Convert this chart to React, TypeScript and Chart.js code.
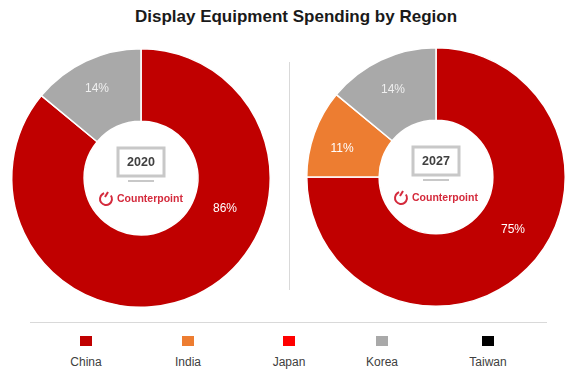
import React, { useEffect, useRef } from "react";
import { Chart, registerables } from "chart.js";

Chart.register(...registerables);

const regions = ["China", "India", "Japan", "Korea", "Taiwan"];
const colors = ["#c00000", "#ed7d31", "#ff0000", "#a9a9a9", "#000000"];
const values2020 = [86, 0, 0, 14, 0];
const values2027 = [75, 11, 0, 14, 0];

const titleText = "Display Equipment Spending by Region";
const brand = "Counterpoint";
const legendX = [86, 188, 289, 382, 488];

const FONT = '"Liberation Sans", Arial, sans-serif';

type Offsets = Record<number, [number, number]>;

const centerPlugin = (year: string, offsets: Offsets) => ({
  id: "center" + year,
  afterDatasetsDraw(chart: any) {
    const { ctx } = chart;
    const meta = chart.getDatasetMeta(0);
    const arc = meta.data[0];
    const cx = arc.x;
    const cy = arc.y;
    ctx.save();
    // slice labels
    ctx.textAlign = "center";
    ctx.textBaseline = "middle";
    ctx.font = `12px ${FONT}`;
    const vals = chart.data.datasets[0].data as number[];
    vals.forEach((v, i) => {
      if (!v) return;
      const off = offsets[i];
      ctx.fillStyle = i === 3 ? "#efefef" : "#ffffff";
      ctx.fillText(`${v}%`, cx + off[0], cy + off[1]);
    });
    // monitor icon
    ctx.strokeStyle = "#c8c8c8";
    ctx.lineWidth = 3;
    ctx.strokeRect(cx - 23, cy - 30, 46, 28);
    ctx.fillStyle = "#c8c8c8";
    ctx.fillRect(cx - 13, cy + 2, 26, 2);
    ctx.fillStyle = "#404040";
    ctx.font = `bold 12.5px ${FONT}`;
    ctx.fillText(year, cx, cy - 15);
    // brand mark
    const lx = cx - 35;
    const ly = cy + 21;
    ctx.strokeStyle = "#d42a3c";
    ctx.lineWidth = 2;
    ctx.beginPath();
    ctx.arc(lx, ly, 6, -Math.PI * 0.2, Math.PI * 1.4);
    ctx.stroke();
    ctx.beginPath();
    ctx.moveTo(lx - 1, ly - 2);
    ctx.lineTo(lx + 2, ly - 7);
    ctx.stroke();
    ctx.fillStyle = "#d42a3c";
    ctx.font = `bold 10.5px ${FONT}`;
    ctx.textAlign = "left";
    ctx.fillText(brand, cx - 24, cy + 21);
    ctx.restore();
  },
});

function Donut({ year, values, left, top, offsets }: { year: string; values: number[]; left: number; top: number; offsets: Offsets }) {
  const ref = useRef<HTMLCanvasElement>(null);
  useEffect(() => {
    const chart = new Chart(ref.current!, {
      type: "doughnut",
      data: {
        labels: regions,
        datasets: [{ data: values, backgroundColor: colors, borderColor: "#ffffff", borderWidth: 1.5 }],
      },
      options: {
        animation: false,
        responsive: false,
        cutout: "44%",
        layout: { padding: 8 },
        plugins: { legend: { display: false }, tooltip: { enabled: false }, title: { display: false } },
      },
      plugins: [centerPlugin(year, offsets)],
    } as any);
    return () => chart.destroy();
  }, []);
  return <canvas ref={ref} width={280} height={276} style={{ position: "absolute", left, top }} />;
}

export default function App() {
  return (
    <div style={{ position: "fixed", left: 0, top: 0, width: 575, height: 377, background: "#fff", overflow: "hidden", fontFamily: FONT, filter: "blur(0.45px)" }}>
      <div style={{ position: "absolute", left: 0, width: 592, top: 7, textAlign: "center", fontWeight: "bold", fontSize: 17, lineHeight: "20px", color: "#1a1a1a", whiteSpace: "nowrap" }}>
        {titleText}
      </div>
      <Donut year="2020" values={values2020} left={1} top={40} offsets={{ 0: [84, 31], 3: [-44, -89] }} />
      <Donut year="2027" values={values2027} left={296} top={39} offsets={{ 0: [77, 53], 1: [-94, -28], 3: [-43, -87] }} />
      <div style={{ position: "absolute", left: 289, top: 62, width: 1, height: 228, background: "#d9d9d9" }} />
      <div style={{ position: "absolute", left: 30, top: 322, width: 517, height: 1, background: "#d9d9d9" }} />
      {regions.map((r, i) => (
        <React.Fragment key={r}>
          <div style={{ position: "absolute", left: legendX[i] - 6, top: 336, width: 12, height: 10, background: colors[i] }} />
          <div style={{ position: "absolute", left: legendX[i] - 40, width: 80, top: 355, textAlign: "center", fontSize: 12, lineHeight: "14px", color: "#404040" }}>{r}</div>
        </React.Fragment>
      ))}
    </div>
  );
}
